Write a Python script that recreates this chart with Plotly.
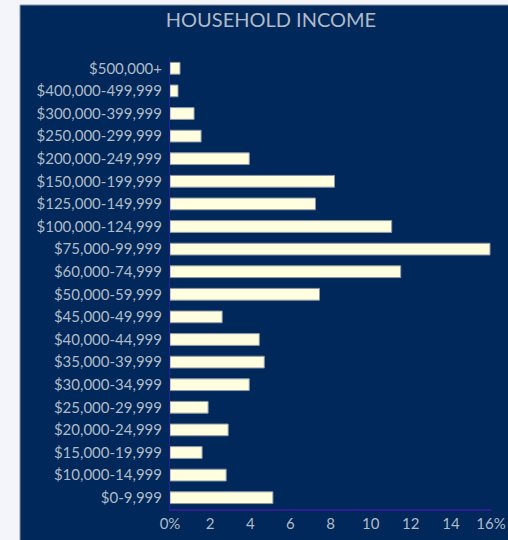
import plotly.graph_objects as go

categories = [
    "$500,000+", "$400,000-499,999", "$300,000-399,999", "$250,000-299,999",
    "$200,000-249,999", "$150,000-199,999", "$125,000-149,999", "$100,000-124,999",
    "$75,000-99,999", "$60,000-74,999", "$50,000-59,999", "$45,000-49,999",
    "$40,000-44,999", "$35,000-39,999", "$30,000-34,999", "$25,000-29,999",
    "$20,000-24,999", "$15,000-19,999", "$10,000-14,999", "$0-9,999",
]
values = [0.5, 0.4, 1.2, 1.55, 3.95, 8.2, 7.25, 11.05, 15.95, 11.5, 7.45, 2.6,
          4.45, 4.7, 3.95, 1.9, 2.9, 1.6, 2.8, 5.13]
tick_vals = [0, 2, 4, 6, 8, 10, 12, 14, 16]
tick_text = ["0%", "2", "4", "6", "8", "10", "12", "14", "16%"]

NAVY = "#00285a"
TXT = "#b2bac7"
AXIS = "#2d1f8f"

fig = go.Figure(go.Bar(
    x=values, y=categories, orientation="h",
    marker=dict(color="#ffffe0", line=dict(color="#8f96a3", width=1)),
))

W, H = 508, 540
L, R, T, B = 170, 17, 57, 31
pw, ph = W - L - R, H - T - B

def px_x(p):
    return (p - L) / pw

def px_y(p):
    return (H - B - p) / ph

fig.add_shape(type="rect", xref="paper", yref="paper",
              x0=px_x(20), x1=px_x(520), y0=px_y(560), y1=px_y(5),
              fillcolor=NAVY, line=dict(color="#8a93a6", width=1), layer="below")

fig.update_layout(
    width=W, height=H,
    margin=dict(l=L, r=R, t=T, b=B, autoexpand=False),
    paper_bgcolor="#f4f5fb",
    plot_bgcolor=NAVY,
    bargap=0.48,
    showlegend=False,
    font=dict(family="Lato", color=TXT, size=15),
    title=dict(text="HOUSEHOLD INCOME", x=271 / W, xanchor="center",
               y=1 - 20 / H, yanchor="middle",
               font=dict(family="Lato", size=20, color=TXT)),
    xaxis=dict(range=[0, 16], tickvals=tick_vals, ticktext=tick_text,
               showgrid=False, zeroline=False, showline=True, automargin=False,
               linecolor=AXIS, linewidth=2, ticks="", fixedrange=True,
               tickfont=dict(size=15, color=TXT)),
    yaxis=dict(categoryorder="array", categoryarray=categories[::-1],
               showgrid=False, zeroline=False, showline=True, automargin=False,
               linecolor=AXIS, linewidth=1, ticks="", ticklen=0,
               ticklabelstandoff=4,
               tickfont=dict(size=15, color=TXT)),
)

fig.write_html("out.html")
